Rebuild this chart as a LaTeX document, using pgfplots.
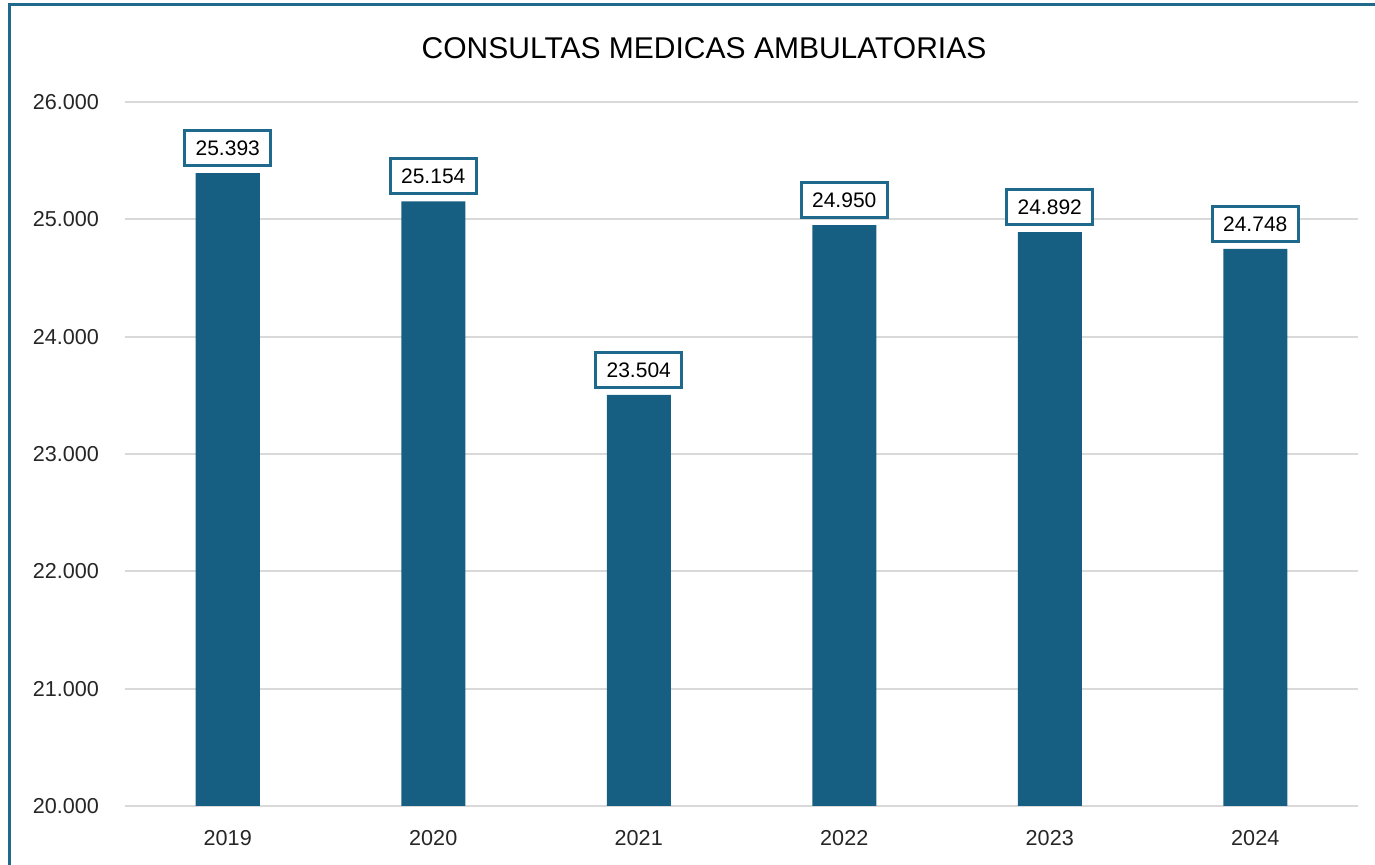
\documentclass[border=0pt]{standalone}
\usepackage{pgfplots}
\pgfplotsset{compat=1.18}
\usepackage{fontspec}
\setmainfont{Liberation Sans}
\definecolor{barblue}{HTML}{175F82}
\definecolor{edgeblue}{HTML}{1F6A8C}
\definecolor{gridgray}{HTML}{D9D9D9}
\definecolor{txt}{HTML}{262626}
\begin{document}
\begin{tikzpicture}
\begin{axis}[
    at={(62.5pt,29.5pt)}, anchor=south west,
    scale only axis,
    width=616.5pt, height=352pt,
    ybar, bar width=32pt,
    xmin=-0.5, xmax=5.5,
    ymin=20000, ymax=26000,
    xtick={0,1,2,3,4,5},
    xticklabels={2019,2020,2021,2022,2023,2024},
    ytick distance=1000,
    ymajorgrids,
    major grid style={gridgray, line width=1pt},
    axis line style={draw=none},
    major tick length=0pt,
    tick label style={font=\fontsize{10.8}{12}\selectfont, text=txt},
    xticklabel style={yshift=-8.5pt},
    yticklabel style={xshift=-9.5pt},
    /pgf/number format/.cd, assume math mode=true, fixed, 1000 sep={.}, /pgfplots/.cd,
    scaled y ticks=false,
    title={CONSULTAS MEDICAS AMBULATORIAS},
    title style={at={(0.4696,1)}, anchor=center, yshift=21pt,
        font=\fontsize{15}{17}\selectfont, text=black},
    nodes near coords,
    every node near coord/.append style={font=\fontsize{10.5}{12}\selectfont, text=black,
        draw=edgeblue, line width=1.5pt, fill=white, inner xsep=5.5pt, inner ysep=5pt,
        text height=7.6pt, text depth=0pt, anchor=south, yshift=3pt},
]
\addplot[fill=barblue, draw=none] coordinates {
    (0,25393) (1,25154) (2,23504) (3,24950) (4,24892) (5,24748)
};
\end{axis}
\draw[edgeblue, line width=1.5pt] (4.75pt,0pt) -- (4.75pt,430.25pt) -- (687.5pt,430.25pt);
\pgfresetboundingbox
\path[use as bounding box] (0,0) rectangle (687.5pt,432.5pt);
\end{tikzpicture}
\end{document}
